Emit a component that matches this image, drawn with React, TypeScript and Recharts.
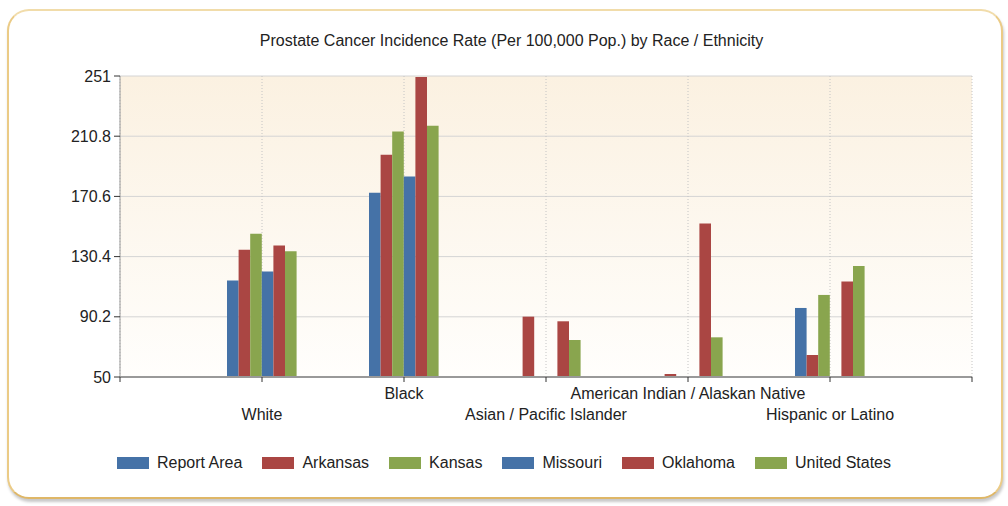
import {
  BarChart,
  Bar,
  XAxis,
  YAxis,
  CartesianGrid,
  Legend,
} from 'recharts';

const categories = [
  'White',
  'Black',
  'Asian / Pacific Islander',
  'American Indian / Alaskan Native',
  'Hispanic or Latino',
];

const reportArea = [114.4, 173.0, null, null, 96.1];
const arkansas = [134.9, 198.4, 90.3, 52.0, 64.7];
const kansas = [145.6, 214.0, null, null, 104.8];
const missouri = [120.4, 183.9, null, null, null];
const oklahoma = [137.8, 250.3, 87.2, 152.5, 113.7];
const unitedStates = [134.0, 217.8, 74.7, 76.5, 124.2];

const yTicks = [50, 90.2, 130.4, 170.6, 210.8, 251];
const xTicks = [0, 1, 2, 3, 4, 5, 6];

const SERIES = [
  { key: 'reportArea', name: 'Report Area', color: '#4572a7' },
  { key: 'arkansas', name: 'Arkansas', color: '#aa4643' },
  { key: 'kansas', name: 'Kansas', color: '#89a54e' },
  { key: 'missouri', name: 'Missouri', color: '#4572a7' },
  { key: 'oklahoma', name: 'Oklahoma', color: '#aa4643' },
  { key: 'unitedStates', name: 'United States', color: '#89a54e' },
];

const chartData = categories.map((name, i) => ({
  name,
  pos: i + 1,
  reportArea: reportArea[i],
  arkansas: arkansas[i],
  kansas: kansas[i],
  missouri: missouri[i],
  oklahoma: oklahoma[i],
  unitedStates: unitedStates[i],
}));

const FONT = '"Liberation Sans", Arial, sans-serif';

const CategoryTick = (props: any) => {
  const { x, y, payload } = props;
  const label = categories[payload.value - 1];
  if (!label) return <g />;
  // alternate rows so the long names don't collide
  const upper = payload.value % 2 === 0;
  return (
    <text
      x={x}
      y={y}
      dy={upper ? 15 : 36}
      textAnchor="middle"
      fill="#222"
      fontSize={16}
    >
      {label}
    </text>
  );
};

// legend keeps series order (recharts sorts by name otherwise)
const LegendBox = (props: any) => {
  const items = [...(props.payload || [])].sort(
    (a: any, b: any) =>
      SERIES.findIndex((s) => s.name === a.value) - SERIES.findIndex((s) => s.name === b.value)
  );
  return (
    <div style={{ display: 'flex', justifyContent: 'center', alignItems: 'center' }}>
      {items.map((item: any, i: number) => (
        <div
          key={`leg-${i}`}
          style={{
            display: 'flex',
            alignItems: 'center',
            marginLeft: i === 0 ? 0 : 20,
          }}
        >
          <div style={{ width: 32, height: 12, background: item.color, marginRight: 8 }} />
          <span style={{ fontSize: 16, color: '#222', lineHeight: '22px' }}>{item.value}</span>
        </div>
      ))}
    </div>
  );
};

export default function App() {
  return (
    <div
      style={{
        position: 'fixed',
        left: 0,
        top: 0,
        width: 1008,
        height: 506,
        background: '#fff',
        fontFamily: FONT,
      }}
    >
      <svg width={0} height={0} style={{ position: 'absolute' }}>
        <defs>
          <linearGradient id="plotBg" x1="0" y1="0" x2="0" y2="1">
            <stop offset="0%" stopColor="#fbf1e1" />
            <stop offset="100%" stopColor="#fffefc" />
          </linearGradient>
        </defs>
      </svg>
      <div
        style={{
          position: 'absolute',
          left: 7,
          top: 9,
          width: 992,
          height: 486,
          border: '2px solid #ebcb86',
          borderTopColor: '#f1dcaa',
          borderBottomColor: '#dfb767',
          borderRadius: 22,
          background: '#fff',
          boxShadow: '1px 3px 3px rgba(0,0,0,0.22)',
        }}
      />
      <div
        style={{
          position: 'absolute',
          left: 0,
          top: 33,
          width: 1023,
          textAlign: 'center',
          fontSize: 16,
          lineHeight: '16px',
          color: '#222',
        }}
      >
        Prostate Cancer Incidence Rate (Per 100,000 Pop.) by Race / Ethnicity
      </div>
      <div style={{ position: 'absolute', left: 0, top: 0 }}>
        <BarChart
          width={1008}
          height={506}
          data={chartData}
          margin={{ top: 76, right: 36, bottom: 69, left: 20 }}
          barGap={0}
        >
          <CartesianGrid
            vertical={false}
            stroke="#d4d4d4"
            fill="url(#plotBg)"
            fillOpacity={1}
          />
          <CartesianGrid horizontal={false} stroke="#c4c4c4" strokeDasharray="1 2" />
          <XAxis
            dataKey="pos"
            type="number"
            domain={[0, 6]}
            ticks={xTicks}
            interval={0}
            tick={<CategoryTick />}
            tickSize={5}
            tickMargin={2}
            height={60}
            axisLine={{ stroke: '#999', strokeWidth: 2 }}
            tickLine={{ stroke: '#333' }}
          />
          <YAxis
            type="number"
            domain={[50, 251]}
            ticks={yTicks}
            allowDataOverflow
            interval={0}
            width={100}
            tickSize={6}
            tickMargin={3}
            tick={{ fill: '#222', fontSize: 16 }}
            axisLine={{ stroke: '#999' }}
            tickLine={{ stroke: '#333' }}
          />
          <Legend
            layout="horizontal"
            align="center"
            verticalAlign="middle"
            wrapperStyle={{ left: 0, top: 452, width: 1008 }}
            content={<LegendBox />}
          />
          {SERIES.map((s) => (
            <Bar
              key={s.key}
              dataKey={s.key}
              name={s.name}
              fill={s.color}
              barSize={11.6}
              isAnimationActive={false}
            />
          ))}
        </BarChart>
      </div>
    </div>
  );
}
